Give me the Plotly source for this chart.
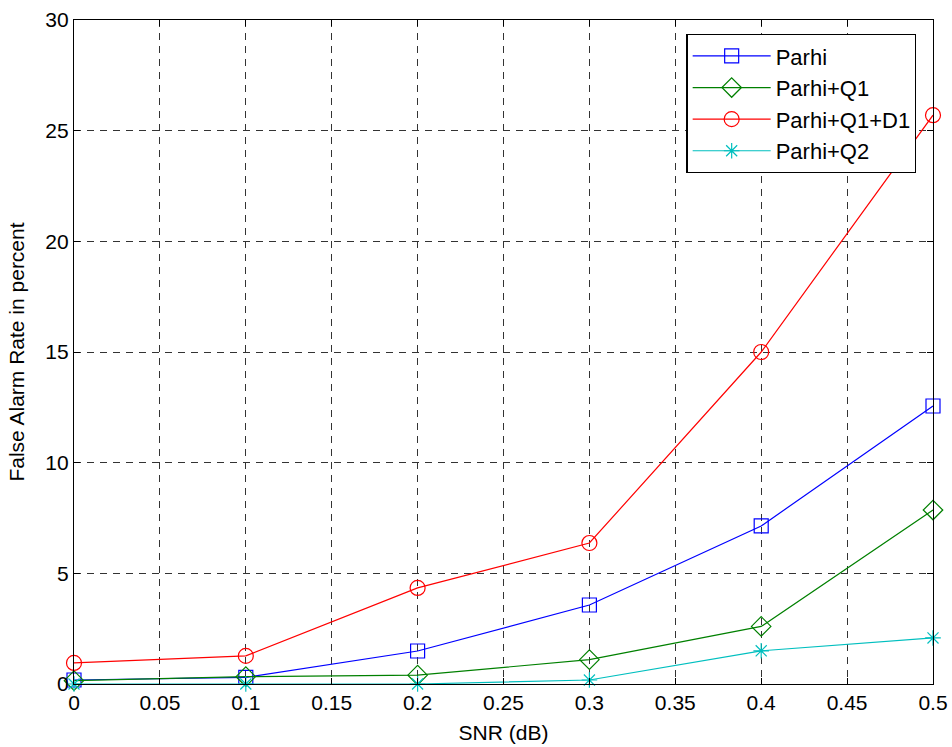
import plotly.graph_objects as go

# SNR values (dB) and false alarm rates (%) per detector variant
snr = [0, 0.1, 0.2, 0.3, 0.4, 0.5]
parhi = [0.18, 0.3, 1.49, 3.57, 7.14, 12.56]
parhi_q1 = [0.15, 0.33, 0.4, 1.1, 2.6, 7.86]
parhi_q1_d1 = [0.95, 1.27, 4.34, 6.37, 15.0, 25.7]
parhi_q2 = [0.0, 0.0, 0.0, 0.18, 1.5, 2.08]

x_ticks = [0, 0.05, 0.1, 0.15, 0.2, 0.25, 0.3, 0.35, 0.4, 0.45, 0.5]
x_tick_text = ["0", "0.05", "0.1", "0.15", "0.2", "0.25", "0.3", "0.35", "0.4", "0.45", "0.5"]
y_ticks = [0, 5, 10, 15, 20, 25, 30]

series = [
    ("Parhi", parhi, "#0000FF", "square-open", 14),
    ("Parhi+Q1", parhi_q1, "#008000", "diamond-open", 15),
    ("Parhi+Q1+D1", parhi_q1_d1, "#FF0000", "circle-open", 15),
    ("Parhi+Q2", parhi_q2, "#00BFBF", "asterisk-open", 13),
]

FONT = "Liberation Sans, Arial, sans-serif"

fig = go.Figure()
for i, (name, vals, color, symbol, size) in enumerate(series):
    fig.add_trace(go.Scatter(
        x=snr, y=vals, name=name, mode="lines+markers",
        line=dict(color=color, width=1.2),
        marker=dict(symbol=symbol, size=size, color=color,
                    line=dict(color=color, width=1.2)),
        legendgroup=f"g{i}",
        cliponaxis=False,
    ))

axis_common = dict(
    showline=True, linecolor="black", linewidth=1.2, mirror="ticks",
    ticks="inside", ticklen=6, tickcolor="black", tickwidth=1,
    showgrid=True, gridcolor="#333333", gridwidth=1, griddash="7px,6px",
    zeroline=False, automargin=False,
    tickfont=dict(family=FONT, size=21, color="black"),
)

fig.update_xaxes(
    range=[0, 0.5], tickvals=x_ticks, ticktext=x_tick_text,
    title=dict(text="SNR (dB)", standoff=12,
               font=dict(family=FONT, size=21, color="black")),
    **axis_common,
)
fig.update_yaxes(
    range=[0, 30], tickvals=y_ticks,
    title=dict(text="False Alarm Rate in percent", standoff=14,
               font=dict(family=FONT, size=21, color="black")),
    **axis_common,
)

fig.update_layout(
    width=952, height=747,
    margin=dict(l=74, r=19, t=20, b=63),
    paper_bgcolor="white", plot_bgcolor="white",
    legend=dict(
        x=0.713, y=0.979, xanchor="left", yanchor="top",
        bgcolor="white", bordercolor="black", borderwidth=1.2,
        font=dict(family=FONT, size=22, color="black"),
        tracegroupgap=0, itemwidth=78,
    ),
    showlegend=True,
)

fig.write_html("out.html")
